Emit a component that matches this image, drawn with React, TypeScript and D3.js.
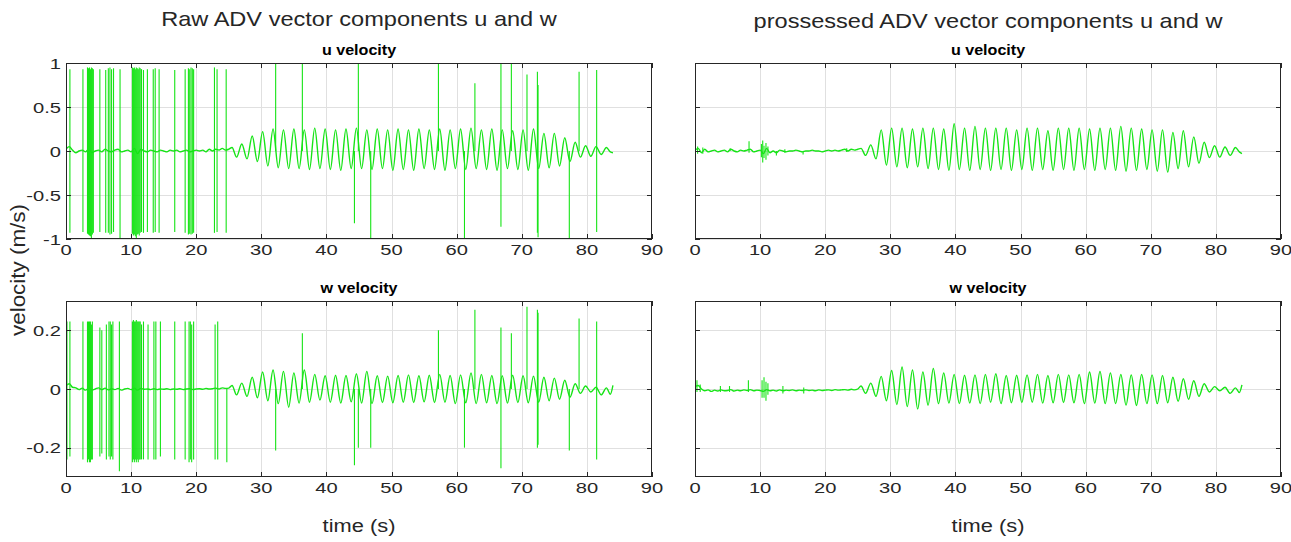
import React, { useEffect, useRef } from "react";
import * as d3 from "d3";

// ---- data ----
const timeTicks = [0, 10, 20, 30, 40, 50, 60, 70, 80, 90];
const uTicks = [-1, -0.5, 0, 0.5, 1];
const wTicks = [-0.2, 0, 0.2];

// quiet part before the waves start (0..25 s)
const baseT = [
  0, 0.5, 1, 1.5, 2, 2.5, 3, 3.5, 4, 4.5, 5, 5.5, 6, 6.5, 7, 7.5, 8, 8.5, 9, 9.5,
  10, 10.5, 11, 11.5, 12, 12.5, 13, 13.5, 14, 14.5, 15, 15.5, 16, 16.5, 17, 17.5,
  18, 18.5, 19, 19.5, 20, 20.5, 21, 21.5, 22, 22.5, 23, 23.5, 24, 24.5, 25,
];

// crest / trough times of the wave part
const waveT = [
  25.5, 26.2, 27.0, 27.8, 28.6, 29.4, 30.2, 31.0, 31.8, 32.6, 33.4, 34.2, 35.0, 35.8,
  36.6, 37.4, 38.2, 39.0, 39.8, 40.6, 41.4, 42.2, 43.0, 43.8, 44.6, 45.4, 46.2, 47.0,
  47.8, 48.6, 49.4, 50.2, 51.0, 51.8, 52.6, 53.4, 54.2, 55.0, 55.8, 56.6, 57.4, 58.2,
  59.0, 59.8, 60.6, 61.4, 62.2, 63.0, 63.8, 64.6, 65.4, 66.2, 67.0, 67.8, 68.6, 69.4,
  70.2, 71.0, 71.8, 72.6, 73.4, 74.2, 75.0, 75.8, 76.6, 77.4, 78.2, 79.0, 79.8, 80.6,
  81.4, 82.2, 83.0, 83.6, 84.0,
];

// raw u
const rawUBase = [
  0.02, 0.05, 0.01, -0.02, 0.0, 0.01, -0.01, 0.02, -0.02, 0.0, 0.01, -0.01, 0.02, 0.0,
  -0.01, 0.01, 0.02, -0.01, 0.0, 0.01, -0.01, 0.03, -0.03, 0.02, 0.0, -0.01, 0.01, 0.0,
  -0.01, 0.01, 0.0, -0.01, 0.01, 0.0, 0.01, -0.01, 0.0, 0.01, -0.01, 0.0, 0.01, 0.0,
  0.01, -0.01, 0.02, 0.0, 0.02, 0.01, 0.03, 0.01, 0.02,
];
const rawUWave = [
  0.04, -0.07, 0.08, -0.09, 0.17, -0.12, 0.22, -0.17, 0.25, -0.19, 0.24, -0.2, 0.25,
  -0.2, 0.24, -0.21, 0.26, -0.2, 0.25, -0.21, 0.24, -0.22, 0.25, -0.2, 0.26, -0.2, 0.24,
  -0.21, 0.25, -0.2, 0.24, -0.22, 0.25, -0.21, 0.24, -0.22, 0.25, -0.2, 0.24, -0.21,
  0.25, -0.22, 0.24, -0.2, 0.25, -0.21, 0.26, -0.2, 0.24, -0.21, 0.25, -0.22, 0.24,
  -0.2, 0.23, -0.21, 0.24, -0.22, 0.25, -0.2, 0.2, -0.19, 0.2, -0.17, 0.15, -0.12, 0.1,
  -0.07, 0.06, -0.06, 0.05, -0.04, 0.04, -0.01, -0.02,
];
const rawUSpikeT = [
  0.6, 2.6, 3.3, 3.45, 3.6, 3.75, 3.9, 4.05, 4.2, 5.2, 6.1, 6.5, 6.75, 7.0, 7.3, 8.3,
  10.2, 10.35, 10.5, 10.65, 10.8, 10.95, 11.1, 11.25, 11.4, 11.6, 11.9, 12.5, 13.4,
  13.7, 14.3, 16.7, 18.3, 18.8, 19.0, 19.2, 19.4, 19.6, 22.8, 23.2, 24.6, 32.2, 36.3,
  44.3, 44.9, 46.8, 57.2, 61.2, 62.8, 66.8, 68.4, 70.8, 72.4, 72.5, 77.3, 78.8, 81.5,
];
const rawUSpikeHi = [
  0.93, 0.93, 0.95, 0.94, 0.95, 0.93, 0.95, 0.94, 0.93, 0.93, 0.92, 0.94, 0.95, 0.93,
  0.94, 0.93, 0.95, 0.94, 0.95, 0.93, 0.95, 0.94, 0.93, 0.95, 0.94, 0.93, 0.92, 0.93,
  0.93, 0.94, 0.93, 0.92, 0.93, 0.94, 0.93, 0.95, 0.94, 0.93, 0.95, 0.93, 0.93, 1.05,
  1.05, 0, 1.05, 0, 1.05, 0, 0.77, 1.05, 1.05, 0.87, 0.9, 0.75, 0, 0.9, 0.92,
];
const rawUSpikeLo = [
  -0.93, -0.92, -0.94, -0.95, -0.96, -0.97, -1.0, -0.95, -0.93, -0.92, -0.93, -0.93,
  -0.95, -0.94, -0.92, -1.0, -0.94, -0.96, -0.95, -0.97, -0.99, -0.95, -0.94, -0.96,
  -0.93, -0.92, -0.93, -0.92, -0.93, -0.92, -0.93, -0.92, -0.93, -0.95, -0.94, -0.95,
  -0.94, -0.93, -0.93, -0.92, -0.93, 0, 0, -0.82, 0, -1.05, 0, -1.05, 0, -0.86, 0, 0,
  -0.93, -0.98, -1.05, 0, -0.92,
];

// raw w
const rawWBase = [
  0.012, 0.018, 0.006, 0.004, -0.002, 0.003, -0.004, 0.002, -0.003, 0.0, 0.004, -0.002,
  0.003, -0.003, 0.001, -0.002, 0.002, -0.004, 0.0, 0.002, -0.002, 0.003, -0.004, 0.002,
  -0.001, 0.0, -0.002, 0.001, -0.002, 0.0, -0.001, 0.001, -0.002, 0.0, -0.001, 0.001,
  -0.002, 0.0, 0.001, -0.002, 0.0, 0.001, -0.001, 0.002, 0.0, 0.001, 0.003, 0.0, 0.004,
  0.002, 0.003,
];
const rawWWave = [
  0.012, -0.02, 0.02, -0.025, 0.04, -0.03, 0.058, -0.04, 0.065, -0.05, 0.06, -0.062,
  0.055, -0.048, 0.065, -0.045, 0.05, -0.038, 0.045, -0.045, 0.047, -0.048, 0.046,
  -0.044, 0.052, -0.048, 0.06, -0.05, 0.045, -0.046, 0.044, -0.047, 0.046, -0.045,
  0.048, -0.046, 0.045, -0.044, 0.047, -0.046, 0.05, -0.045, 0.046, -0.05, 0.048,
  -0.047, 0.055, -0.05, 0.05, -0.047, 0.046, -0.05, 0.045, -0.048, 0.047, -0.046, 0.045,
  -0.047, 0.044, -0.045, 0.04, -0.04, 0.037, -0.035, 0.03, -0.028, 0.018, -0.015, 0.01,
  -0.01, 0.006, -0.02, 0.004, -0.018, 0.012,
];
const rawWSpikeT = [
  0.15, 0.6, 2.6, 3.3, 3.45, 3.6, 3.75, 3.9, 4.05, 5.2, 5.5, 6.2, 6.6, 6.8, 7.0, 7.2,
  8.2, 10.2, 10.35, 10.5, 10.65, 10.8, 10.95, 11.1, 11.25, 11.4, 11.6, 11.9, 12.6, 13.5,
  13.8, 14.5, 16.7, 18.3, 18.9, 19.1, 19.3, 19.6, 22.9, 23.3, 24.7, 32.2, 36.3, 44.3,
  44.9, 46.8, 57.2, 61.2, 62.8, 66.8, 68.4, 70.8, 72.4, 72.5, 77.3, 78.8, 81.5,
];
const rawWSpikeHi = [
  0.23, 0.23, 0.23, 0.23, 0.23, 0.23, 0.23, 0.22, 0.23, 0.21, 0.2, 0.22, 0.23, 0.23,
  0.22, 0.23, 0.23, 0.23, 0.235, 0.23, 0.23, 0.235, 0.23, 0.23, 0.23, 0.23, 0.22, 0.23,
  0.22, 0.23, 0.23, 0.23, 0.23, 0.23, 0.23, 0.23, 0.22, 0.23, 0.22, 0.23, 0, 0, 0.19, 0,
  0, 0, 0.2, 0, 0.27, 0.21, 0.19, 0.28, 0.27, 0.26, 0, 0.24, 0.23,
];
const rawWSpikeLo = [
  -0.24, -0.23, -0.24, -0.25, -0.24, -0.25, -0.25, -0.24, -0.24, -0.23, -0.22, -0.24,
  -0.23, -0.24, -0.23, -0.24, -0.28, -0.25, -0.24, -0.25, -0.24, -0.25, -0.24, -0.25,
  -0.24, -0.24, -0.24, -0.24, -0.24, -0.24, -0.24, -0.23, -0.24, -0.24, -0.25, -0.24,
  -0.25, -0.24, -0.24, -0.24, -0.25, -0.21, 0, -0.26, -0.2, -0.2, 0, -0.2, 0, -0.27, 0,
  0, -0.2, -0.19, -0.21, 0, -0.24,
];

// processed u
const procUBase = [
  0.01, 0.03, -0.02, 0.02, -0.01, 0.0, 0.01, -0.01, 0.0, 0.01, -0.01, 0.02, 0.0, -0.01,
  0.01, 0.0, 0.01, 0.02, -0.01, 0.0, 0.01, -0.03, 0.03, -0.02, 0.0, -0.02, 0.01, 0.0,
  -0.01, 0.0, 0.0, 0.01, 0.0, -0.01, 0.0, 0.0, 0.01, 0.0, 0.0, -0.01, 0.0, 0.01, 0.0,
  0.01, 0.0, 0.01, 0.02, 0.0, 0.02, 0.01, 0.02,
];
const procUWave = [
  0.03, -0.05, 0.07, -0.09, 0.24, -0.16, 0.26, -0.18, 0.26, -0.19, 0.25, -0.18, 0.26,
  -0.2, 0.26, -0.21, 0.25, -0.22, 0.31, -0.21, 0.26, -0.22, 0.28, -0.21, 0.26, -0.22,
  0.26, -0.21, 0.26, -0.22, 0.24, -0.21, 0.26, -0.22, 0.26, -0.21, 0.23, -0.22, 0.26,
  -0.21, 0.26, -0.22, 0.26, -0.21, 0.25, -0.22, 0.26, -0.21, 0.26, -0.22, 0.28, -0.23,
  0.26, -0.22, 0.25, -0.21, 0.24, -0.23, 0.24, -0.24, 0.21, -0.2, 0.23, -0.18, 0.16,
  -0.14, 0.1, -0.075, 0.06, -0.07, 0.045, -0.05, 0.04, -0.01, -0.03,
];
const procUSpikeT = [0.4, 1.2, 5.4, 8.3, 10.2, 10.4, 10.6, 10.9, 11.2, 12.5, 13.8, 16.6, 23.3];
const procUSpikeHi = [0.05, 0.04, 0.03, 0.11, 0.08, 0.12, 0.06, 0.09, 0.05, 0, 0.02, 0, 0.03];
const procUSpikeLo = [-0.03, -0.03, 0, -0.02, -0.07, -0.13, -0.08, -0.1, -0.05, -0.05, -0.02, -0.04, -0.01];

// processed w
const procWBase = [
  0.008, 0.012, 0.0, -0.006, -0.003, -0.008, -0.004, -0.007, -0.003, -0.006, -0.005,
  -0.002, -0.007, -0.004, -0.006, -0.003, -0.005, -0.002, -0.006, -0.004, -0.005, -0.008,
  -0.002, -0.006, -0.004, -0.007, -0.003, -0.006, -0.004, -0.005, -0.003, -0.006, -0.004,
  -0.005, -0.003, -0.005, -0.004, -0.006, -0.003, -0.005, -0.004, -0.003, -0.005, -0.002,
  -0.004, -0.003, -0.002, -0.004, -0.001, -0.003, 0.0,
];
const procWWave = [
  0.01, -0.015, 0.02, -0.025, 0.043, -0.04, 0.063, -0.053, 0.075, -0.06, 0.065, -0.068,
  0.058, -0.055, 0.07, -0.05, 0.055, -0.048, 0.05, -0.05, 0.047, -0.048, 0.048, -0.05,
  0.05, -0.045, 0.052, -0.05, 0.046, -0.047, 0.047, -0.046, 0.048, -0.045, 0.05, -0.048,
  0.046, -0.047, 0.05, -0.046, 0.048, -0.047, 0.05, -0.05, 0.058, -0.048, 0.06, -0.05,
  0.055, -0.05, 0.05, -0.055, 0.048, -0.056, 0.05, -0.05, 0.048, -0.05, 0.046, -0.047,
  0.04, -0.042, 0.035, -0.035, 0.028, -0.025, 0.018, -0.01, 0.008, -0.006, 0.006, -0.015,
  0.004, -0.012, 0.014,
];
const procWSpikeT = [0.3, 0.8, 3.9, 5.3, 8.2, 10.3, 10.6, 10.9, 11.2, 13.5, 16.7];
const procWSpikeHi = [0.03, 0.015, 0.01, 0.01, 0.03, 0.03, 0.04, 0.025, 0.02, 0.01, 0.005];
const procWSpikeLo = [-0.01, -0.01, -0.01, -0.01, -0.01, -0.03, -0.03, -0.04, -0.02, -0.015, -0.015];

const GREEN = "#16e416";
const AXIS = "#262626";
const GRID = "#e0e0e0";
const FONT = "'Liberation Sans', Arial, Helvetica, sans-serif";
const SX = 1.15; // the figure is a bit stretched sideways

const panels = [
  { id: "ru", x: 66, y: 63, w: 586, h: 176, dom: [-1, 1], ticks: uTicks, title: "u velocity", yLabels: true,
    base: rawUBase, wave: rawUWave, sT: rawUSpikeT, sHi: rawUSpikeHi, sLo: rawUSpikeLo },
  { id: "rw", x: 66, y: 301, w: 586, h: 176, dom: [-0.3, 0.3], ticks: wTicks, title: "w velocity", yLabels: true,
    base: rawWBase, wave: rawWWave, sT: rawWSpikeT, sHi: rawWSpikeHi, sLo: rawWSpikeLo },
  { id: "pu", x: 695, y: 63, w: 586, h: 176, dom: [-1, 1], ticks: uTicks, title: "u velocity", yLabels: false,
    base: procUBase, wave: procUWave, sT: procUSpikeT, sHi: procUSpikeHi, sLo: procUSpikeLo },
  { id: "pw", x: 695, y: 301, w: 586, h: 176, dom: [-0.3, 0.3], ticks: wTicks, title: "w velocity", yLabels: false,
    base: procWBase, wave: procWWave, sT: procWSpikeT, sHi: procWSpikeHi, sLo: procWSpikeLo },
];

function addText(g, x, y, str, size, opts: any = {}) {
  return g
    .append("text")
    .attr("transform", `translate(${x},${y}) ${opts.rotate ? `rotate(${opts.rotate})` : ""} scale(${opts.sx ?? SX},1)`)
    .attr("text-anchor", opts.anchor || "middle")
    .attr("font-family", FONT)
    .attr("font-size", size)
    .attr("font-weight", opts.weight || "normal")
    .attr("fill", opts.fill || AXIS)
    .text(str);
}

export default function App() {
  const svgRef = useRef(null);

  useEffect(() => {
    const svg = d3.select(svgRef.current);
    svg.selectAll("*").remove();

    panels.forEach((p) => {
      const x = d3.scaleLinear().domain([0, 90]).range([p.x, p.x + p.w]);
      const y = d3.scaleLinear().domain(p.dom).range([p.y + p.h, p.y]);
      const g = svg.append("g");

      g.append("rect").attr("x", p.x).attr("y", p.y).attr("width", p.w).attr("height", p.h).attr("fill", "#fff");

      // grid
      g.selectAll("line.gx").data(timeTicks.slice(1, -1)).join("line")
        .attr("x1", (d) => Math.round(x(d)) + 0.5).attr("x2", (d) => Math.round(x(d)) + 0.5)
        .attr("y1", p.y).attr("y2", p.y + p.h)
        .attr("stroke", GRID).attr("stroke-width", 1);
      g.selectAll("line.gy").data(p.ticks).join("line")
        .attr("x1", p.x).attr("x2", p.x + p.w)
        .attr("y1", (d) => Math.round(y(d)) + 0.5).attr("y2", (d) => Math.round(y(d)) + 0.5)
        .attr("stroke", GRID).attr("stroke-width", 1);

      // data
      const clipId = `clip-${p.id}`;
      svg.append("clipPath").attr("id", clipId).append("rect")
        .attr("x", p.x).attr("y", p.y).attr("width", p.w).attr("height", p.h);
      const pts = baseT.map((t, i) => [t, p.base[i]]).concat(waveT.map((t, i) => [t, p.wave[i]]));
      const line = d3.line().x((d) => x(d[0])).y((d) => y(d[1])).curve(d3.curveMonotoneX);
      const dg = g.append("g").attr("clip-path", `url(#${clipId})`);
      dg.append("path").attr("d", line(pts)).attr("fill", "none")
        .attr("stroke", GREEN).attr("stroke-width", 1.4).attr("stroke-linejoin", "round");
      const straight = d3.line().x((d) => x(d[0])).y((d) => y(d[1]));
      dg.selectAll("path.spike").data(p.sT.map((t, i) => [[t, p.sLo[i]], [t, p.sHi[i]]])).join("path")
        .attr("d", (d) => straight(d)).attr("fill", "none")
        .attr("stroke", GREEN).attr("stroke-width", 1.1);

      // box and ticks
      g.append("rect").attr("x", p.x + 0.5).attr("y", p.y + 0.5).attr("width", p.w - 1).attr("height", p.h - 1)
        .attr("fill", "none").attr("stroke", AXIS).attr("stroke-width", 1);
      const tl = 5;
      timeTicks.forEach((t) => {
        const xx = Math.round(x(t)) + 0.5;
        g.append("line").attr("x1", xx).attr("x2", xx).attr("y1", p.y + p.h).attr("y2", p.y + p.h - tl).attr("stroke", AXIS);
        g.append("line").attr("x1", xx).attr("x2", xx).attr("y1", p.y).attr("y2", p.y + tl).attr("stroke", AXIS);
        addText(g, x(t), p.y + p.h + 15.5, String(t), 15.5, { sx: 1.3 });
      });
      p.ticks.forEach((v) => {
        const yy = Math.round(y(v)) + 0.5;
        g.append("line").attr("x1", p.x).attr("x2", p.x + tl).attr("y1", yy).attr("y2", yy).attr("stroke", AXIS);
        g.append("line").attr("x1", p.x + p.w).attr("x2", p.x + p.w - tl).attr("y1", yy).attr("y2", yy).attr("stroke", AXIS);
        if (p.yLabels) addText(g, p.x - 5, y(v) + 5.5, String(v), 15.5, { anchor: "end", sx: 1.3 });
      });

      addText(g, p.x + p.w / 2, p.y - 8, p.title, 14, { weight: "bold", fill: "#000" });
    });

    addText(svg, 359, 26, "Raw ADV vector components u and w", 20.5);
    addText(svg, 988, 28, "prossessed ADV vector components u and w", 20.5);
    addText(svg, 359, 532, "time (s)", 19);
    addText(svg, 988, 532, "time (s)", 19);
    addText(svg, 25, 270, "velocity (m/s)", 19.5, { rotate: -90 });
  }, []);

  return (
    <svg
      ref={svgRef}
      width={1291}
      height={542}
      style={{ position: "absolute", left: 0, top: 0, background: "#fff" }}
    />
  );
}
